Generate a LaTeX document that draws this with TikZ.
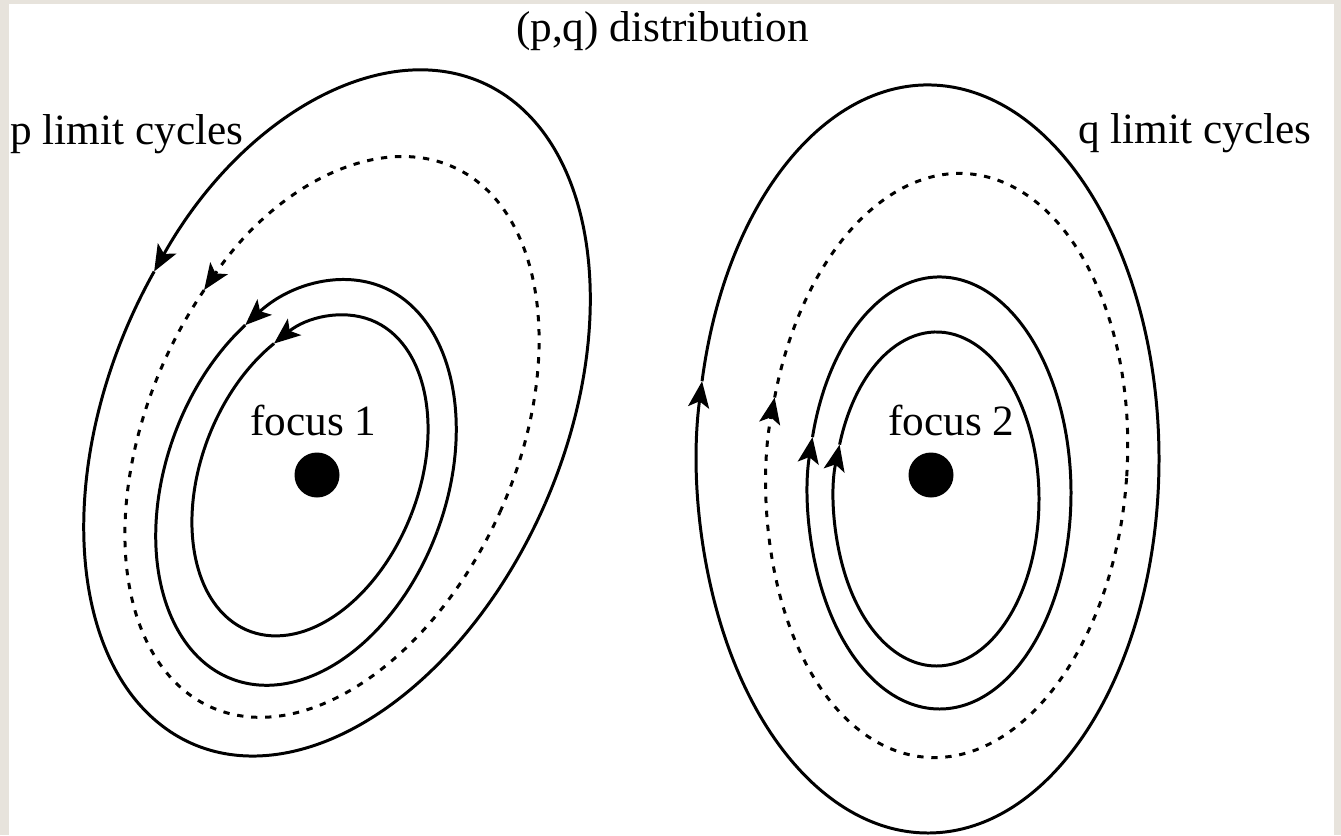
\documentclass[tikz,border=0pt]{standalone}
\usepackage{fontspec}
\setmainfont{Liberation Serif}
\usetikzlibrary{arrows.meta}
\definecolor{framebg}{RGB}{231,227,220}

\begin{document}
\begin{tikzpicture}[
  x=0.02cm, y=0.02cm,
  font=\fontsize{24.6}{29}\selectfont,
  >={Stealth[length=15pt, width=12pt, inset=3.5pt]},
  orbit/.style={line width=1.7pt},
  limit/.style={orbit, dash pattern=on 3.6pt off 4.4pt},
  lbl/.style={inner sep=0pt, anchor=base west},
]
  % Frame
  \fill[framebg] (0,0) rectangle (1341,-835);
  \fill[white] (9,-4) rectangle (1334,-835);
  \useasboundingbox (0,0) rectangle (1341,-835);

  % Labels
  \node[lbl, anchor=base] (title) at (662.5,-41) {(p,q) distribution};
  \node[lbl] (pcyc) at (10,-144) {p limit cycles};
  \node[lbl] (qcyc) at (1078,-143) {q limit cycles};
  \node[lbl] (foc1) at (250,-435) {focus 1};
  \node[lbl] (foc2) at (888,-435) {focus 2};

  % Foci
  \fill (317,-475) circle[radius=22.5];
  \fill (931,-475) circle[radius=22.5];

  % Focus 1: anticlockwise cycles
  \begin{scope}[shift={(337,-413)}, rotate=-23.6]
    \draw[orbit, ->] (0:227 and 361) arc[start angle=0, end angle=171, x radius=227, y radius=361];
    \draw[orbit] (171:227 and 361) arc[start angle=171, end angle=360, x radius=227, y radius=361];
  \end{scope}
  \begin{scope}[shift={(332,-437)}, rotate=-24.2]
    \draw[limit, ->] (0:184 and 296) arc[start angle=0, end angle=164, x radius=184, y radius=296];
    \draw[limit] (164:184 and 296) arc[start angle=164, end angle=360, x radius=184, y radius=296];
  \end{scope}
  \begin{scope}[shift={(306,-482.5)}, rotate=-20.4]
    \draw[orbit, ->] (0:140 and 210) arc[start angle=0, end angle=143, x radius=140, y radius=210];
    \draw[orbit] (143:140 and 210) arc[start angle=143, end angle=360, x radius=140, y radius=210];
  \end{scope}
  \begin{scope}[shift={(310,-475.5)}, rotate=-21.5]
    \draw[orbit, ->] (0:108.5 and 167) arc[start angle=0, end angle=139, x radius=108.5, y radius=167];
    \draw[orbit] (139:108.5 and 167) arc[start angle=139, end angle=360, x radius=108.5, y radius=167];
  \end{scope}

  % Focus 2: clockwise cycles
  \begin{scope}[shift={(928,-459)}]
    \draw[orbit, ->] (0:231 and 374) arc[start angle=360, end angle=168, x radius=231, y radius=374];
    \draw[orbit] (168:231 and 374) arc[start angle=168, end angle=0, x radius=231, y radius=374];
  \end{scope}
  \begin{scope}[shift={(947,-465.5)}, rotate=-4]
    \draw[limit, ->] (0:180 and 292.5) arc[start angle=360, end angle=169, x radius=180, y radius=292.5];
    \draw[limit] (169:180 and 292.5) arc[start angle=169, end angle=0, x radius=180, y radius=292.5];
  \end{scope}
  \begin{scope}[shift={(939.5,-493)}]
    \draw[orbit, ->] (0:131.5 and 216) arc[start angle=360, end angle=165, x radius=131.5, y radius=216];
    \draw[orbit] (165:131.5 and 216) arc[start angle=165, end angle=0, x radius=131.5, y radius=216];
  \end{scope}
  \begin{scope}[shift={(936.5,-499)}]
    \draw[orbit, ->] (0:102.5 and 167) arc[start angle=360, end angle=161, x radius=102.5, y radius=167];
    \draw[orbit] (161:102.5 and 167) arc[start angle=161, end angle=0, x radius=102.5, y radius=167];
  \end{scope}
\end{tikzpicture}
\end{document}
